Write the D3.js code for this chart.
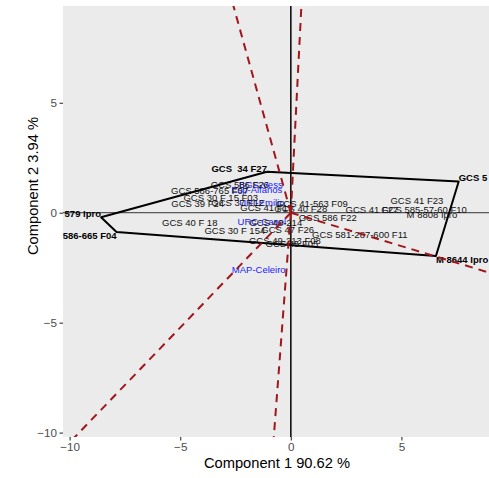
<!DOCTYPE html>
<html>
<head>
<meta charset="utf-8">
<script src="https://cdn.jsdelivr.net/npm/d3@7"></script>
<style>
  body { margin: 0; background: #fff; }
  svg { display: block; font-family: "Liberation Sans", Arial, sans-serif; }
</style>
</head>
<body>
<svg id="chart" width="489" height="478"></svg>
<script>
// Genotype scores (component 1, component 2)
const genoNames = [
  "GCS 586-765 F07", "GCS 586 F26", "GCS 30 F 15 F03", "GCS 39 F24", "GCS 37 F12",
  "GCS 41 F19", "GCS 41-563 F09", "GCS 40 F28", "GCS 586 F22", "GCS 40 F 18",
  "GCS 40-214", "GCS 30 F 154", "GCS 47 F26", "GCS 581-287-600 F11", "GCS 49-213 F08",
  "GCS 45 F05", "GCS 41 F23", "GCS 41 F27", "GCS 585-57-60 F10", "M 8808 Ipro"
];
const genoX = [-3.67, -2.31, -3.17, -4.21, -2.40, -1.09, 0.95, 0.45, 1.67, -4.57,
               -0.68, -2.53, -0.14, 3.12, -0.27, 0.05, 5.70, 3.67, 6.02, 6.38];
const genoY = [1.00, 1.27, 0.68, 0.41, 0.45, 0.23, 0.41, 0.18, -0.23, -0.45,
               -0.45, -0.82, -0.77, -1.00, -1.27, -1.41, 0.55, 0.14, 0.14, -0.09];

// Genotypes on the convex hull (polygon vertices, in drawing order)
const hullNames = ["GCS  34 F27", "GCS 5 F21", "M 8644 Ipro", "GCS 586-665 F04", "M 579 Ipro"];
const hullX = [-1.08, 7.59, 6.56, -7.88, -8.58];
const hullY = [1.86, 1.42, -1.97, -0.88, -0.21];

// Environment scores
const envNames = ["BGS-Vess", "Esp-Alfanos", "URI-Emilio", "URC-Canel", "MAP-Celeiro"];
const envX = [-1.36, -1.54, -1.31, -1.31, -1.45];
const envY = [1.27, 1.05, 0.45, -0.41, -2.59];

const xTicks = [-10, -5, 0, 5];
const yTicks = [-10, -5, 0, 5];
const xTitle = "Component 1 90.62 %";
const yTitle = "Component 2 3.94 %";

const panel = { left: 63, right: 491, top: 6, bottom: 437 };
const xDomain = [-10.3, 9.05], yDomain = [-10.2, 9.4];
const x = d3.scaleLinear().domain(xDomain).range([panel.left, panel.right]);
const y = d3.scaleLinear().domain(yDomain).range([panel.bottom, panel.top]);
const xMid = (xDomain[0] + xDomain[1]) / 2, yMid = (yDomain[0] + yDomain[1]) / 2;

const svg = d3.select("#chart");

svg.append("defs").append("clipPath").attr("id", "panel-clip")
  .append("rect")
  .attr("x", panel.left).attr("y", panel.top)
  .attr("width", panel.right - panel.left).attr("height", panel.bottom - panel.top);

svg.append("rect")
  .attr("x", panel.left).attr("y", panel.top)
  .attr("width", panel.right - panel.left).attr("height", panel.bottom - panel.top)
  .attr("fill", "#EBEBEB");

const g = svg.append("g").attr("clip-path", "url(#panel-clip)");

// Reference lines through the origin
g.append("line")
  .attr("x1", panel.left).attr("x2", panel.right)
  .attr("y1", y(0)).attr("y2", y(0))
  .attr("stroke", "#333").attr("stroke-width", 1);
g.append("line")
  .attr("x1", x(0)).attr("x2", x(0))
  .attr("y1", panel.top).attr("y2", panel.bottom)
  .attr("stroke", "#111").attr("stroke-width", 1.6);

// Environment labels
g.selectAll("text.env").data(envNames).join("text")
  .attr("class", "env")
  .attr("x", (d, i) => x(envX[i]))
  .attr("y", (d, i) => y(envY[i]))
  .attr("dy", "0.35em")
  .attr("text-anchor", "middle")
  .attr("font-size", 9.5)
  .attr("fill", "#1a1aff")
  .text(d => d);

// Genotype labels
g.selectAll("text.geno").data(genoNames).join("text")
  .attr("class", "geno")
  .attr("x", (d, i) => x(genoX[i]))
  .attr("y", (d, i) => y(genoY[i]))
  .attr("dy", "0.35em")
  .attr("text-anchor", "middle")
  .attr("font-size", 9.5)
  .attr("fill", "#111")
  .text(d => d);

// Hull vertex labels, bold, justified outward from the panel centre
g.selectAll("text.vertex").data(hullNames).join("text")
  .attr("class", "vertex")
  .attr("x", (d, i) => x(hullX[i]))
  .attr("y", (d, i) => y(hullY[i]) + (hullY[i] > yMid ? -3.5 : 4))
  .attr("dy", "0.35em")
  .attr("text-anchor", (d, i) => hullX[i] < xMid ? "end" : "start")
  .attr("font-size", 9.5)
  .attr("font-weight", "bold")
  .attr("fill", "#000")
  .style("white-space", "pre")
  .text(d => d);

// Convex hull polygon
const hullPts = hullX.map((v, i) => [x(v), y(hullY[i])]);
g.append("path")
  .attr("d", d3.line()(hullPts.concat([hullPts[0]])))
  .attr("fill", "none")
  .attr("stroke", "#000")
  .attr("stroke-width", 2)
  .attr("stroke-linejoin", "round");

// Rays from the origin perpendicular to each hull edge
const rays = hullX.map((v, i) => {
  const j = (i + 1) % hullX.length;
  const ex = hullX[j] - v, ey = hullY[j] - hullY[i];
  let nx = -ey, ny = ex;
  if (nx * v + ny * hullY[i] < 0) { nx = -nx; ny = -ny; }
  const len = Math.hypot(nx, ny);
  return [nx / len * 40, ny / len * 40];
});
g.selectAll("line.ray").data(rays).join("line")
  .attr("class", "ray")
  .attr("x1", x(0)).attr("y1", y(0))
  .attr("x2", d => x(d[0])).attr("y2", d => y(d[1]))
  .attr("stroke", "#A0161B")
  .attr("stroke-width", 2)
  .attr("stroke-dasharray", "8,6");

// Axes
const xAxis = svg.append("g")
  .attr("transform", `translate(0,${panel.bottom})`)
  .call(d3.axisBottom(x).tickValues(xTicks).tickSize(3.5).tickPadding(2.5).tickFormat(d3.format("d")));
const yAxis = svg.append("g")
  .attr("transform", `translate(${panel.left},0)`)
  .call(d3.axisLeft(y).tickValues(yTicks).tickSize(3.5).tickPadding(2.5).tickFormat(d3.format("d")));
[xAxis, yAxis].forEach(a => {
  a.select(".domain").remove();
  a.selectAll(".tick line").attr("stroke", "#333").attr("stroke-width", 1.1);
  a.selectAll(".tick text").attr("fill", "#4D4D4D").attr("font-size", 11.7)
    .attr("font-family", "Liberation Sans, Arial, sans-serif");
});

svg.append("text")
  .attr("x", (panel.left + panel.right) / 2)
  .attr("y", 468)
  .attr("text-anchor", "middle")
  .attr("font-size", 14.7)
  .attr("fill", "#000")
  .text(xTitle);

svg.append("text")
  .attr("transform", `translate(37.5,186) rotate(-90)`)
  .attr("text-anchor", "middle")
  .attr("font-size", 14.7)
  .attr("fill", "#000")
  .text(yTitle);
</script>
</body>
</html>
